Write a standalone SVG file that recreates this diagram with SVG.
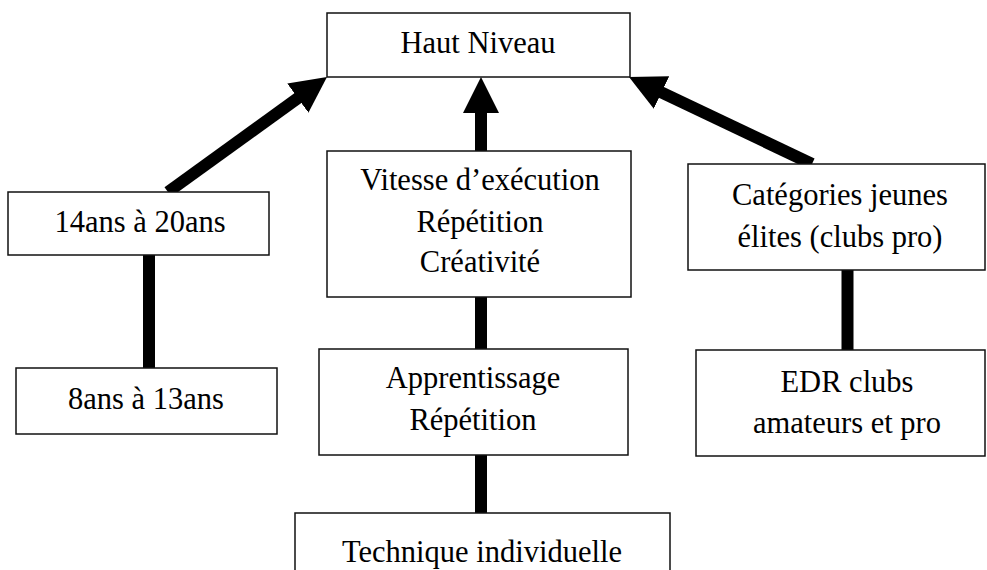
<svg xmlns="http://www.w3.org/2000/svg" width="987" height="570" viewBox="0 0 987 570">
<style>
.box{fill:#fff;stroke:#111;stroke-width:1.5}
.t{font-family:'Liberation Serif','Times New Roman','DejaVu Serif',serif;font-size:30.5px;fill:#000;text-anchor:middle}
.c{stroke:#000;stroke-width:12;fill:none}
</style>
<defs>
<marker id="ah" markerUnits="userSpaceOnUse" markerWidth="36" markerHeight="36" viewBox="0 0 36 36" refX="6" refY="18" orient="auto">
<path d="M0,0 L36,18 L0,36 z" fill="#000"/>
</marker>
</defs>
<rect width="987" height="570" fill="#fff"/>
<g id="connectors">
<line class="c" x1="168" y1="192" x2="302.7" y2="94.6" marker-end="url(#ah)"/>
<line class="c" x1="481" y1="151" x2="481" y2="107" marker-end="url(#ah)"/>
<line class="c" x1="812" y1="164" x2="656.1" y2="89.9" marker-end="url(#ah)"/>
<line class="c" x1="149" y1="255" x2="149" y2="368"/>
<line class="c" x1="481" y1="297" x2="481" y2="349"/>
<line class="c" x1="481" y1="455" x2="481" y2="513"/>
<line class="c" x1="847.5" y1="270" x2="847.5" y2="350"/>
</g>
<g id="haut-niveau">
<rect class="box" x="327" y="13" width="303" height="64"/>
<text class="t" x="478" y="53" font-family="Liberation Serif, serif">Haut Niveau</text>
</g>
<g id="ans14-20">
<rect class="box" x="8" y="192" width="261" height="63"/>
<text class="t" x="140" y="232">14ans à 20ans</text>
</g>
<g id="ans8-13">
<rect class="box" x="16" y="368" width="261" height="66"/>
<text class="t" x="146" y="409">8ans à 13ans</text>
</g>
<g id="vitesse">
<rect class="box" x="327" y="151" width="304" height="146"/>
<text class="t" x="480" y="190">Vitesse d’exécution</text>
<text class="t" x="480" y="232">Répétition</text>
<text class="t" x="480" y="272">Créativité</text>
</g>
<g id="apprentissage">
<rect class="box" x="319" y="349" width="309" height="106"/>
<text class="t" x="473" y="388">Apprentissage</text>
<text class="t" x="473" y="430">Répétition</text>
</g>
<g id="technique">
<rect class="box" x="295" y="513" width="375" height="70"/>
<text class="t" x="482" y="562">Technique individuelle</text>
</g>
<g id="categories">
<rect class="box" x="688" y="164" width="297" height="106"/>
<text class="t" x="840" y="205">Catégories jeunes</text>
<text class="t" x="840" y="247">élites (clubs pro)</text>
</g>
<g id="edr">
<rect class="box" x="696" y="350" width="289" height="106"/>
<text class="t" x="847" y="392">EDR clubs</text>
<text class="t" x="847" y="433">amateurs et pro</text>
</g>
</svg>
